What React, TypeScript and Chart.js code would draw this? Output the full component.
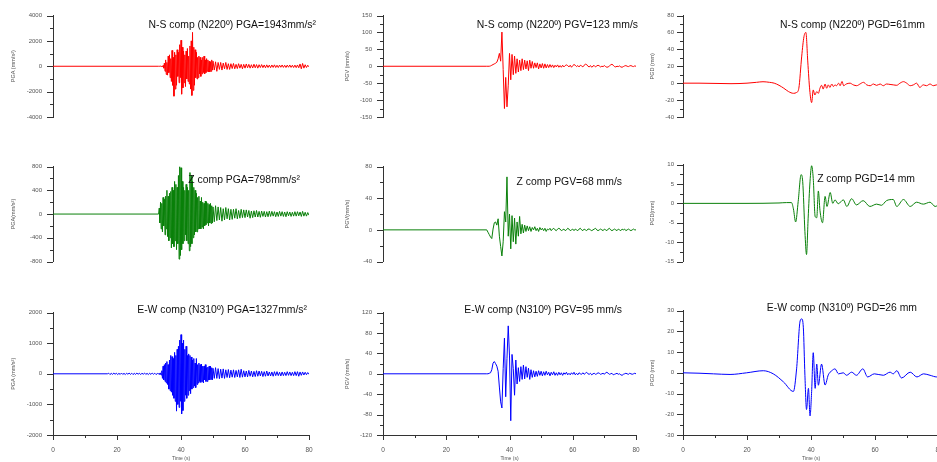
import React, { useEffect, useRef } from 'react';
import { Chart, registerables } from 'chart.js';
Chart.register(...registerables);

// ---------- time bases ----------
const ACC_DENSE_START = 33.0; // s
const ACC_DENSE_STEP = 0.2;
const ACC_TAIL_START = 50.4;
const ACC_TAIL_STEP = 0.4;
const EW_ACC_PRE_START = 17.0;
const EW_ACC_PRE_STEP = 0.4;
const VEL_START = 33.2;
const VEL_STEP = 0.4;
const ACC_QUIET_T = [0];
const ACC_QUIET_V = [0];
const VEL_QUIET_T = [0, 32.8];
const VEL_QUIET_V = [0, 0];

// ---------- acceleration (mm/s²) ----------
const NS_ACC_DENSE = [
  0, 5, -8, 10, -15, 20, -40, 60, -150, 250,
  -400, 500, -650, 300, -700, 800, -500, 900, -900, 600,
  -1200, 1250, -1500, 700, -2360, 1100, -1800, 900, -1500, 1300,
  -800, 1100, -1300, 1700, -900, 2050, -2200, 1500, -1700, 1200,
  -1300, 900, -1600, 1200, -1000, 1400, -1200, 800, -1400, 1600,
  -1800, 2000, -2300, 2670, -1900, 1500, -1500, 1300, -900, 1100,
  -1000, 700, -900, 800, -600, 700, -800, 500, -600, 700,
  -500, 800, -600, 500, -500, 600, -400, 500, -450, 400,
  -450, 350, -400, 500, -300, 400,
];
const NS_ACC_TAIL = [
  -300, 350, -400, 300, -250, 300, -300, 250, -200, 300,
  -250, 200, -250, 200, -180, 220, -200, 150, -180, 200,
  -150, 150, -200, 150, -150, 180, -120, 150, -150, 120,
  -140, 160, -120, 130, -150, 120, -100, 130, -110, 100,
  -120, 110, -100, 90, -110, 100, -90, 110, -100, 80,
  -100, 90, -80, 100, -90, 80, -100, 90, -80, 100,
  -90, 80, -100, 90, -110, 100, -120, 180, -200, 220,
  -150, 120, -100, 80, -50,
];
const Z_ACC_DENSE = [
  0, 100, -150, 200, -250, 180, -300, 280, -200, 250,
  -350, 300, -250, 400, -380, 300, -450, 350, -400, 380,
  -570, 450, -500, 400, -550, 550, -450, 500, -600, 450,
  -500, 650, -760, 800, -700, 780, -600, 550, -500, 450,
  -450, 400, -350, 500, -450, 450, -500, 400, -620, 700,
  -550, 650, -500, 550, -400, 450, -350, 400, -300, 350,
  -300, 280, -250, 300, -250, 220, -250, 280, -220, 200,
  -250, 180, -200, 220, -180, 200, -150, 180, -200, 160,
  -150, 180, -160, 140, -150, 120,
];
const Z_ACC_TAIL = [
  -130, 140, -110, 120, -100, 110, -120, 90, -100, 110,
  -80, 90, -100, 80, -90, 80, -70, 90, -80, 60,
  -70, 80, -60, 70, -60, 70, -50, 60, -70, 50,
  -60, 55, -50, 60, -50, 45, -55, 50, -40, 45,
  -50, 40, -45, 50, -40, 45, -35, 40, -45, 35,
  -40, 45, -35, 40, -40, 35, -45, 40, -30, 35,
  -40, 30, -35, 40, -35, 40, -30, 35, -40, 45,
  -35, 30, -35, 25, -20,
];
const EW_ACC_PRE = [
  0, 20, -25, 15, -20, 25, -15, 20, -25, 15,
  -20, 25, -20, 15, -25, 20, -15, 25, -20, 20,
  -25, 15, -20, 25, -15, 20, -25, 20, -15, 25,
  -20, 15, -25, 20, -20, 25, -15, 20, -25, 10,
];
const EW_ACC_DENSE = [
  0, 10, -20, 30, -40, 100, -150, 250, -200, 300,
  -250, 350, -300, 400, -350, 300, -500, 450, -550, 600,
  -600, 560, -700, 500, -800, 700, -900, 600, -1220, 800,
  -1000, 900, -1100, 1100, -900, 1280, -1310, 1000, -1200, 1100,
  -900, 800, -700, 900, -800, 600, -700, 650, -550, 600,
  -650, 550, -500, 450, -450, 500, -400, 350, -450, 500,
  -350, 300, -300, 350, -250, 300, -280, 320, -250, 250,
  -300, 250, -200, 300, -250, 200, -250, 220, -200, 250,
  -200, 250, -180, 200, -200, 180,
];
const EW_ACC_TAIL = [
  -150, 200, -150, 170, -160, 150, -140, 160, -150, 130,
  -120, 140, -130, 120, -110, 130, -120, 110, -100, 130,
  -120, 150, -110, 100, -100, 90, -100, 110, -80, 90,
  -100, 80, -90, 100, -80, 90, -70, 80, -90, 70,
  -80, 90, -70, 60, -70, 60, -80, 70, -60, 70,
  -60, 50, -70, 60, -60, 50, -60, 70, -50, 60,
  -60, 50, -60, 70, -60, 70, -80, 60, -50, 60,
  -40, 50, -30, 40, -20,
];

// ---------- velocity (mm/s) ----------
const NS_VEL = [
  0, 0, 1, 3, 5, 7, 9, 12, 22, 38,
  15, 101, -10, -125, -33, -120, -56, 38, -40, 35,
  -25, 30, -21, 22, -17, 18, -13, 22, -10, 18,
  -8, 16, -13, 18, -6, 14, -6, 10, -4, 10,
  -8, 7, -5, 8, -6, 7, -5, 5, -4, 5,
  -3, 4, -4, 3, -2, 4, -3, 2, -3, 3,
  -2, 2, 4, 2, -2, 3, -3, 2, 5, 3,
  -1, 2, -2, 3, 1, -2, 3, 6, 5, 0,
  -2, 2, -3, 1, 2, -2, 1, 3, 1, -2,
  0, -1, 2, -1, -3, -2, 1, 4, 6, 3,
  -1, -2, 0, -1, 1, -2, -3, -1, 1, 2,
  0, -1, 1, 2, 0, -1, 1, 0,
];
const Z_VEL = [
  -3, -6, -9, -11, 1, 9, 10, 6, 14, -8,
  -21, -33, -15, 23, 10, 67, -8, 20, -24, 18,
  -15, 15, -18, 10, -8, 17, -5, 7, -4, 6,
  -2, 5, -1, 4, -2, 3, 0, 4, -1, 2,
  -2, 3, 0, 2, -1, 2, -2, 1, 0, 2,
  -1, 1, 2, 0, -1, 1, 2, 1, -1, 0,
  1, -1, 0, 2, 1, -1, 0, 1, -1, 1,
  0, -1, 1, 2, 0, -1, 1, 0, -1, 1,
  1, 0, -1, 0, 1, 2, 0, -1, 0, 1,
  0, -1, 1, 0, -1, 1, 2, 0, -1, 0,
  1, 0, -1, 1, 0, -1, 1, 0, 1, -1,
  0, 1, 0, -1, 0, 1, 0, 0,
];
const EW_VEL = [
  0, 1, 2, 8, 21, 24, 20, 15, 5, -26,
  -55, -67, 10, 70, -45, 30, 94, 35, -92, 38,
  10, -42, 27, -20, 12, -15, 14, -11, 17, -10,
  14, -7, 11, -11, 8, -7, 6, -6, 5, -5,
  6, -3, 5, -4, 4, -3, 5, -2, 3, -4,
  3, -2, 4, -3, 2, -3, 3, -2, 2, -3,
  2, -1, 3, -2, 1, -2, 2, -1, 3, -2,
  1, -2, 2, 0, -1, 2, -1, 1, 3, 0,
  -1, 1, -2, 0, 1, -1, 0, 2, 1, -1,
  0, 1, -1, 2, 3, 1, -1, 0, 1, -2,
  -1, 0, 1, -1, 0, -2, -3, -1, 0, 1,
  0, -1, 1, 0, -1, 0, 1, 0,
];

// ---------- displacement (mm) ----------
const NS_DISP_T = [
  0, 5, 10, 15, 20, 23, 25, 27, 28.5, 30,
  31.5, 33, 34.5, 35.5, 36.2, 37.1, 37.8, 38.4, 39.0, 39.6,
  40.2, 40.7, 41.2, 41.8, 42.3, 42.8, 43.3, 43.8, 44.4, 44.9,
  45.4, 45.9, 46.5, 47.0, 47.5, 48.0, 48.6, 49.1, 49.7, 50.2,
  51.0, 52.2, 53.2, 54.3, 55.3, 56.4, 57.4, 58.5, 59.5, 60.5,
  61.6, 62.6, 63.6, 64.7, 65.7, 66.8, 67.8, 68.9, 69.9, 71.0,
  72.0, 73.0, 74.0, 75.1, 76.1, 77.2, 78.2, 79.3, 80,
];
const NS_DISP = [
  0, 0, -0.3, -0.6, 0, 1, 1.7, 1, 0, -2.5,
  -6, -10, -12, -11, -6, 32, 55, 60, 25, -8,
  -23, -8, -14, -10, -12, -6, -2.5, -7, -1, -6,
  -2, -5, -1, -4, -2, -3, 0, -3, 2, -3,
  -1, 0, -2, -3, -1, 1, -2, -3, -1, -2.6,
  -1, -3, -1, -1.5, -2, -2.5, 0, 1.8, 0, -3,
  -2, 0, -5, -2, -3, -1, -3, -2, -2.5,
];
const Z_DISP_T = [
  0, 10, 20, 30, 32.4, 33.9, 34.5, 35.2, 36.0, 36.9,
  37.4, 38.1, 38.6, 39.1, 39.7, 40.2, 40.7, 41.3, 41.8, 42.3,
  42.8, 43.6, 44.4, 45.0, 46.0, 46.8, 47.5, 48.5, 50.1, 51.2,
  52.7, 54.2, 56.3, 58.4, 60.5, 62.0, 63.6, 65.7, 66.8, 68.9,
  71.0, 73.0, 75.1, 77.2, 78.8, 80,
];
const Z_DISP = [
  0, 0, 0, 0.1, 0.2, 0.2, -1.4, -4.8, 0.5, 7.4,
  5.7, -7.3, -13.2, -4, 5.7, 9.7, 6.4, -3.4, -3.7, 3.2,
  -1.8, -5, 1.8, -0.8, 2.8, 0, 0.9, -0.1, 0.9, -0.8,
  1.2, -0.4, 0.7, -0.8, -0.2, -0.5, 0.7, 1, -0.8, 1,
  -0.8, 0.3, -0.2, 0.3, -0.8, -0.3,
];
const EW_DISP_T = [
  0, 5, 9.5, 14.7, 19.9, 25.1, 28.2, 31.4, 34.5, 35.5,
  36.6, 37.1, 37.6, 38.1, 38.6, 39.2, 39.7, 40.2, 40.7, 41.3,
  41.8, 42.3, 43.3, 44.4, 45.4, 46.5, 47.5, 48.6, 50.1, 51.1,
  52.7, 54.2, 56.2, 57.7, 59.8, 62.6, 64.7, 65.7, 66.8, 68.3,
  71.0, 73.1, 75.2, 77.2, 79.3, 80,
];
const EW_DISP = [
  0, -0.2, -0.5, -0.8, 0, 1, -0.5, -4.4, -9, 1.9,
  25, 26, 22, -1.2, -17.7, -7.5, -20.8, -9, 9.7, -7.5,
  4.2, -6, 4.2, -5.9, -1, 1, 1.9, -0.5, 0, -1.2,
  0.3, -1.2, 1.9, -2, -0.5, -1.2, 0.3, -0.5, 1, -2.5,
  0.3, -2, -0.5, -1.2, -2, -2,
];

// ---------- texts ----------
const TITLES = [
  ['N-S comp (N220º) PGA=1943mm/s²', 'N-S comp (N220º) PGV=123 mm/s', 'N-S comp (N220º) PGD=61mm'],
  ['Z comp PGA=798mm/s²', 'Z comp PGV=68 mm/s', 'Z comp PGD=14 mm'],
  ['E-W comp (N310º) PGA=1327mm/s²', 'E-W comp (N310º) PGV=95 mm/s', 'E-W comp (N310º) PGD=26 mm'],
];
const Y_TITLES = [
  ['PGA (mm/s²)', 'PGV (mm/s)', 'PGD (mm)'],
  ['PGA(mm/s²)', 'PGV(mm/s)', 'PGD(mm)'],
  ['PGA (mm/s²)', 'PGV (mm/s)', 'PGD (mm)'],
];
const X_TITLE = 'Time (s)';
const X_MIN = 0;
const X_MAX = 80;
const X_MAJOR = 20;
const X_MINOR = 10;

// y ranges [min, max, major, minor]
const Y_RANGES = [
  [[-4000, 4000, 2000, 1000], [-150, 150, 50, 25], [-40, 80, 20, 10]],
  [[-800, 800, 400, 200], [-40, 80, 40, 20], [-15, 10, 5, 2.5]],
  [[-2000, 2000, 1000, 500], [-120, 120, 40, 20], [-30, 30, 10, 5]],
];

// ---------- layout / style ----------
const COLORS = ['#ff0000', '#0a800a', '#0000ff'];
const COLS = [
  { left: 0, width: 318, axisW: 53, padRight: 9, titlePad: 9.8 },
  { left: 318, width: 330, axisW: 65, padRight: 12, titlePad: 26 },
  { left: 648, width: 304, axisW: 35, padRight: 13, titlePad: 1.2 },
];
const ROWS = [
  { top: 0, height: 152, padTop: 15.5, padBottom: 8, xAxis: false },
  { top: 152, height: 146, padTop: 9.5, padBottom: 9.5, xAxis: false },
  { top: 298, height: 164, padTop: 9, padBottom: 0, xAxis: true },
];
// title anchor: right edge offset from chartArea.right, vertical centre offset from chartArea.top
const TITLE_POS = [
  [[7, 9.5], [2, 9.5], [-14, 9.5]],
  [[-9, 13.5], [-14, 15.5], [-24, 14.5]],
  [[-2, -2], [-14, -2], [-22, -2]],
];
const FONT = '"Liberation Sans", Arial, sans-serif';
const AXIS_COLOR = '#333';
const LABEL_COLOR = '#555';

type Pt = { x: number; y: number };
function gridSeries(start: number, step: number, vals: number[]): Pt[] {
  return vals.map((v, i) => ({ x: +(start + i * step).toFixed(3), y: v }));
}
function pairSeries(ts: number[], vs: number[]): Pt[] {
  return ts.map((t, i) => ({ x: t, y: vs[i] }));
}
function accSeries(pre: Pt[], dense: number[], tail: number[]): Pt[] {
  return [
    ...pairSeries(ACC_QUIET_T, ACC_QUIET_V),
    ...pre,
    ...gridSeries(ACC_DENSE_START, ACC_DENSE_STEP, dense),
    ...gridSeries(ACC_TAIL_START, ACC_TAIL_STEP, tail),
  ];
}
function velSeries(vals: number[]): Pt[] {
  return [...pairSeries(VEL_QUIET_T, VEL_QUIET_V), ...gridSeries(VEL_START, VEL_STEP, vals)];
}

const SERIES: Pt[][][] = [
  [accSeries([], NS_ACC_DENSE, NS_ACC_TAIL), velSeries(NS_VEL), pairSeries(NS_DISP_T, NS_DISP)],
  [accSeries([], Z_ACC_DENSE, Z_ACC_TAIL), velSeries(Z_VEL), pairSeries(Z_DISP_T, Z_DISP)],
  [
    accSeries(gridSeries(EW_ACC_PRE_START, EW_ACC_PRE_STEP, EW_ACC_PRE), EW_ACC_DENSE, EW_ACC_TAIL),
    velSeries(EW_VEL),
    pairSeries(EW_DISP_T, EW_DISP),
  ],
];

const tickPlugin = {
  id: 'axisTicks',
  afterDraw(chart: any, _a: any, opts: any) {
    const { ctx } = chart;
    const y = chart.scales.y;
    ctx.save();
    ctx.strokeStyle = AXIS_COLOR;
    ctx.lineWidth = 1;
    const n = Math.round((y.max - y.min) / opts.minor);
    for (let i = 0; i <= n; i++) {
      const v = y.min + i * opts.minor;
      const r = v / opts.major;
      const isMajor = Math.abs(r - Math.round(r)) < 1e-6;
      const len = isMajor ? 6 : 3;
      const py = Math.round(y.getPixelForValue(v)) + 0.5;
      ctx.beginPath();
      ctx.moveTo(y.right - len, py);
      ctx.lineTo(y.right, py);
      ctx.stroke();
    }
    if (opts.xTicks) {
      const x = chart.scales.x;
      const m = Math.round((X_MAX - X_MIN) / X_MINOR);
      for (let i = 0; i <= m; i++) {
        const v = X_MIN + i * X_MINOR;
        const isMajor = v % X_MAJOR === 0;
        const len = isMajor ? 5 : 3;
        const px = Math.round(x.getPixelForValue(v)) + 0.5;
        ctx.beginPath();
        ctx.moveTo(px, x.top);
        ctx.lineTo(px, x.top + len);
        ctx.stroke();
      }
    }
    ctx.restore();
  },
};

const titlePlugin = {
  id: 'panelTitle',
  afterDatasetsDraw(chart: any, _a: any, opts: any) {
    const { ctx, chartArea } = chart;
    ctx.save();
    ctx.font = `${opts.size}px ${FONT}`;
    ctx.fillStyle = '#111';
    ctx.textAlign = 'right';
    ctx.textBaseline = 'middle';
    ctx.fillText(opts.text, chartArea.right + opts.dx, chartArea.top + opts.dy);
    ctx.restore();
  },
};

function makeChart(canvas: HTMLCanvasElement, r: number, c: number) {
  const col = COLS[c];
  const row = ROWS[r];
  const [yMin, yMax, major, minor] = Y_RANGES[r][c];
  const smooth = c === 2;
  return new Chart(canvas, {
    type: 'line',
    data: {
      datasets: [
        {
          data: SERIES[r][c],
          borderColor: COLORS[r],
          borderWidth: 1,
          pointRadius: 0,
          fill: false,
          tension: 0,
          cubicInterpolationMode: smooth ? 'monotone' : 'default',
        } as any,
      ],
    },
    options: {
      animation: false,
      responsive: false,
      devicePixelRatio: 1,
      events: [],
      layout: { padding: { left: 0, right: col.padRight, top: row.padTop, bottom: row.padBottom } },
      plugins: {
        legend: { display: false },
        tooltip: { enabled: false },
        axisTicks: { major, minor, xTicks: row.xAxis },
        panelTitle: { text: TITLES[r][c], dx: TITLE_POS[r][c][0], dy: TITLE_POS[r][c][1], size: 10.4 },
      } as any,
      scales: {
        x: {
          type: 'linear',
          min: X_MIN,
          max: X_MAX,
          display: row.xAxis,
          grid: { display: false, drawTicks: true, tickLength: 10 },
          border: { display: true, color: AXIS_COLOR, width: 1 },
          ticks: { stepSize: X_MAJOR, color: LABEL_COLOR, font: { family: FONT, size: 6.5 }, padding: 1, maxRotation: 0, autoSkip: false },
          title: { display: true, text: X_TITLE, color: LABEL_COLOR, font: { family: FONT, size: 5 }, padding: { top: 0, bottom: 0 } },
          afterFit: (s: any) => { s.height = 27; },
        },
        y: {
          type: 'linear',
          min: yMin,
          max: yMax,
          grid: { display: false, drawTicks: false },
          border: { display: true, color: AXIS_COLOR, width: 1 },
          ticks: {
            stepSize: major,
            autoSkip: false,
            color: LABEL_COLOR,
            font: { family: FONT, size: 6 },
            padding: c === 2 ? 9 : 11,
            callback: (v: any) => String(v),
          },
          title: { display: true, text: Y_TITLES[r][c], color: LABEL_COLOR, font: { family: FONT, size: 5.5 }, padding: { top: col.titlePad, bottom: 0 } },
          afterFit: (s: any) => { s.width = col.axisW; },
        },
      } as any,
    },
    plugins: [tickPlugin, titlePlugin],
  });
}

const CELLS = [0, 1, 2].flatMap((r) => [0, 1, 2].map((c) => [r, c]));

export default function App() {
  const refs = useRef<(HTMLCanvasElement | null)[]>([]);
  useEffect(() => {
    const charts = CELLS.map(([r, c], i) => makeChart(refs.current[i] as HTMLCanvasElement, r, c));
    return () => charts.forEach((ch) => ch.destroy());
  }, []);
  return (
    <div style={{ position: 'fixed', left: 0, top: 0, width: 937, height: 462, overflow: 'hidden', background: '#fff' }}>
      {CELLS.map(([r, c], i) => (
        <canvas
          key={i}
          ref={(el) => { refs.current[i] = el; }}
          width={COLS[c].width}
          height={ROWS[r].height}
          style={{ position: 'absolute', left: COLS[c].left, top: ROWS[r].top, width: COLS[c].width, height: ROWS[r].height }}
        />
      ))}
    </div>
  );
}
